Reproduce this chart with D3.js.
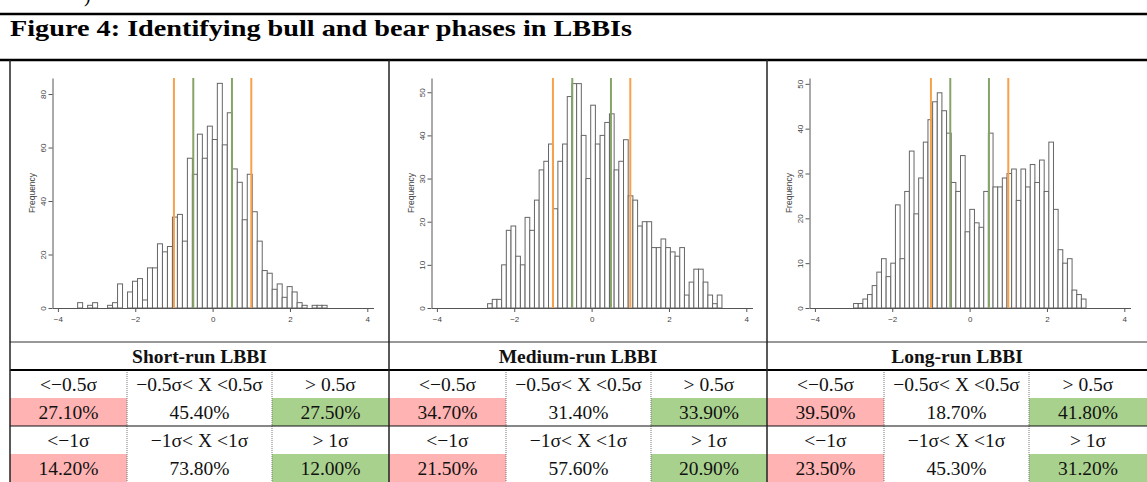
<!DOCTYPE html>
<html lang="en">
<head>
<meta charset="UTF-8">
<title>Figure 4: Identifying bull and bear phases in LBBIs</title>
<script src="https://d3js.org/d3.v7.min.js"></script>
<style>
  body { margin: 0; background: #fff; overflow: hidden; }
  .axis text { font-family: Arial, 'Liberation Sans', sans-serif; font-size: 8px; fill: #444; }
  .axis path, .axis line { stroke: #555; }
  .cell { font-family: 'Liberation Serif', 'Times New Roman', serif; font-size: 19.5px; fill: #111; }
</style>
</head>
<body>
<div id="chart"></div>
<script>
// histogram counts (50 equal bins between min and max of each index)
const panelNames = ["Short-run LBBI", "Medium-run LBBI", "Long-run LBBI"];
const shortCounts = [2,0,1,2,0,0,1,2,9,0, 6,10,11,3,15,15,24,21,23,34, 35,25,56,50,65,56,68,63,84,61,
                     73,52,47,33,50,36,25,14,13,7, 9,4,8,6,2,1,0,1,1,1];
const mediumCounts = [1,2,2,10,18,19,12,10,21,18, 25,32,34,38,23,34,38,49,52,52, 40,30,47,38,40,43,45,32,34,39,
                      26,25,19,20,20,14,14,16,14,13, 12,14,3,6,9,9,6,3,1,3];
const longCounts = [1,1,2,3,5,8,11,7,10,23, 11,26,35,21,29,37,42,46,48,44, 39,28,26,34,17,22,19,18,26,39,
                    27,27,29,30,31,24,31,27,32,28, 33,26,37,22,13,10,11,4,3,2];
const binRanges = [[-3.49, 2.96], [-2.69, 3.37], [-3.0, 3.01]];
const xTicks = [-4, -2, 0, 2, 4];
const yTicksShort = [0, 20, 40, 60, 80];
const yTicksLong = [0, 10, 20, 30, 40, 50];
const yMax = [86, 53.3, 51.3];
const orangeCuts = [-1, 1];
const greenCuts = [-0.5, 0.5];

// table
const halfSigmaLabels = ["<\u22120.5\u03c3", "\u22120.5\u03c3< X <0.5\u03c3", "> 0.5\u03c3"];
const oneSigmaLabels = ["<\u22121\u03c3", "\u22121\u03c3< X <1\u03c3", "> 1\u03c3"];
const halfSigmaShares = [[27.1, 45.4, 27.5], [34.7, 31.4, 33.9], [39.5, 18.7, 41.8]];
const oneSigmaShares = [[14.2, 73.8, 12.0], [21.5, 57.6, 20.9], [23.5, 45.3, 31.2]];

const W = 1147, H = 482;
const groupX = [10, 389, 767, 1147];
const subCols = [0, 117, 262];
const pink = "#ffb3b3", green = "#a9d18e";

const svg = d3.select("#chart").append("svg")
  .attr("width", W).attr("height", H)
  .style("display", "block");

// cut glyph from the line above
svg.append("text").attr("x", 84).attr("y", 2)
  .style("font-family", "'Liberation Serif', serif").style("font-size", "20px")
  .text(")");

svg.append("text")
  .attr("x", 10).attr("y", 36)
  .attr("textLength", 622).attr("lengthAdjust", "spacingAndGlyphs")
  .style("font-family", "'Liberation Serif', 'Times New Roman', serif")
  .style("font-weight", "bold").style("font-size", "24px")
  .text("Figure 4: Identifying bull and bear phases in LBBIs");

const allCounts = [shortCounts, mediumCounts, longCounts];

allCounts.forEach(function (counts, i) {
  const gx = groupX[i];
  const lo = binRanges[i][0], w = (binRanges[i][1] - binRanges[i][0]) / counts.length;
  const bins = counts.map((n, k) => ({ x0: lo + k * w, x1: lo + (k + 1) * w, n: n }));

  const x = d3.scaleLinear().domain([-4.14, 4.16]).range([gx + 42.5, gx + 363.5]);
  const y = d3.scaleLinear().domain([0, yMax[i]]).range([308, 78]);

  const g = svg.append("g");

  g.selectAll("rect.bar")
    .data(bins.filter(d => d.n > 0))
    .enter().append("rect")
    .attr("class", "bar")
    .attr("x", d => x(d.x0))
    .attr("width", d => x(d.x1) - x(d.x0))
    .attr("y", d => y(d.n))
    .attr("height", d => y(0) - y(d.n))
    .style("fill", "#fff")
    .style("stroke", "#666")
    .style("stroke-width", 1);

  // x axis
  g.append("g").attr("class", "axis")
    .attr("transform", "translate(0,308)")
    .call(d3.axisBottom(x).tickValues(xTicks).tickSize(4).tickSizeOuter(0).tickPadding(4));

  // y axis, labels parallel to the axis like base R
  g.append("g").attr("class", "axis")
    .attr("transform", `translate(${gx + 42.5},0)`)
    .call(d3.axisLeft(y).tickValues(i === 0 ? yTicksShort : yTicksLong).tickSize(4).tickSizeOuter(0))
    .call(a => a.selectAll(".tick text")
      .attr("x", 0).attr("dy", 0)
      .attr("text-anchor", "middle")
      .attr("transform", "translate(-7,0) rotate(-90)"));

  g.append("text")
    .attr("transform", `translate(${gx + 25},193) rotate(-90)`)
    .attr("text-anchor", "middle")
    .style("font-family", "Arial, 'Liberation Sans', sans-serif")
    .style("font-size", "8.5px").style("fill", "#444")
    .text("Frequency");

  // sigma cut-offs
  const cuts = orangeCuts.map(v => ({ v: v, c: "#f9a04b" }))
    .concat(greenCuts.map(v => ({ v: v, c: "#86a468" })));
  g.selectAll("line.cut")
    .data(cuts)
    .enter().append("line")
    .attr("class", "cut")
    .attr("x1", d => x(d.v)).attr("x2", d => x(d.v))
    .attr("y1", y(0)).attr("y2", y(yMax[i]))
    .style("stroke", d => d.c)
    .style("stroke-width", 2);
});

// ---- table under the histograms
const rowTop = 342, rowH = 28;

panelNames.forEach(function (name, i) {
  const gx = groupX[i], gw = groupX[i + 1] - gx;
  const colX = subCols.concat([gw]).map(c => gx + c);

  // coloured value cells
  [[halfSigmaShares[i], 2], [oneSigmaShares[i], 4]].forEach(function (row) {
    const yTop = rowTop + row[1] * rowH;
    svg.append("rect").attr("x", colX[0]).attr("y", yTop)
      .attr("width", colX[1] - colX[0]).attr("height", rowH).style("fill", pink);
    svg.append("rect").attr("x", colX[2]).attr("y", yTop)
      .attr("width", colX[3] - colX[2]).attr("height", rowH).style("fill", green);
    row[0].forEach(function (v, k) {
      svg.append("text").attr("class", "cell")
        .attr("x", (colX[k] + colX[k + 1]) / 2).attr("y", yTop + rowH / 2)
        .attr("text-anchor", "middle").attr("dominant-baseline", "central")
        .text(d3.format(".2f")(v) + "%");
    });
  });

  [[halfSigmaLabels, 1], [oneSigmaLabels, 3]].forEach(function (row) {
    row[0].forEach(function (lab, k) {
      svg.append("text").attr("class", "cell")
        .attr("x", (colX[k] + colX[k + 1]) / 2).attr("y", rowTop + row[1] * rowH + rowH / 2)
        .attr("text-anchor", "middle").attr("dominant-baseline", "central")
        .text(lab);
    });
  });

  svg.append("text").attr("class", "cell")
    .attr("x", gx + gw / 2).attr("y", rowTop + rowH / 2)
    .attr("text-anchor", "middle").attr("dominant-baseline", "central")
    .style("font-weight", "bold")
    .text(name);

  // dotted sub-column separators
  [colX[1], colX[2]].forEach(function (sx) {
    svg.append("line").attr("x1", sx).attr("x2", sx)
      .attr("y1", rowTop + rowH).attr("y2", H)
      .style("stroke", "#777").style("stroke-dasharray", "1,1");
  });
});

// rules
const rules = [
  { y: 14, x0: 0, w: 2.5, c: "#000" },
  { y: 60, x0: 0, w: 2.5, c: "#000" },
  { y: rowTop + rowH, x0: 10, w: 2, c: "#000" },
  { y: rowTop, x0: 10, w: 1, c: "#333" },
  { y: rowTop + 3 * rowH, x0: 10, w: 1.2, c: "#111" }
];
svg.selectAll("line.rule").data(rules).enter().append("line")
  .attr("x1", d => d.x0).attr("x2", W)
  .attr("y1", d => d.y).attr("y2", d => d.y)
  .style("stroke", d => d.c).style("stroke-width", d => d.w);

svg.selectAll("line.vsep").data(groupX.slice(0, 3)).enter().append("line")
  .attr("x1", d => d).attr("x2", d => d)
  .attr("y1", 60).attr("y2", H)
  .style("stroke", "#222").style("stroke-width", 1.5);
</script>
</body>
</html>
